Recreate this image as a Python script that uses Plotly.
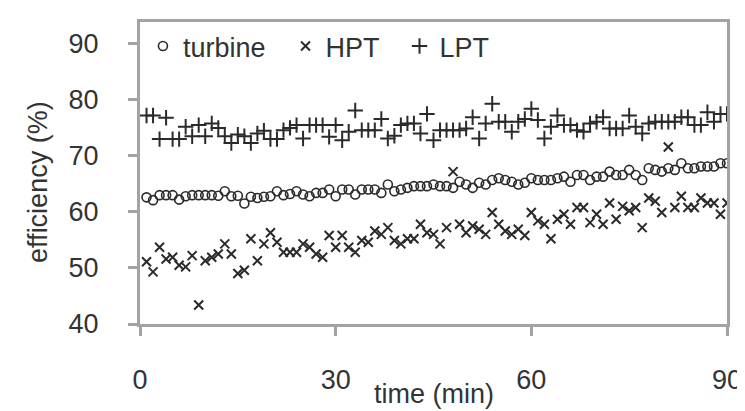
import plotly.graph_objects as go

minutes = list(range(1, 91))

turbine = [62.6, 62.1, 63.0, 63.0, 63.0, 62.2, 62.8, 63.0, 63.0, 63.0,
           63.0, 62.9, 63.7, 62.8, 62.9, 61.5, 62.7, 62.5, 62.7, 62.8,
           63.7, 63.0, 63.2, 63.7, 63.1, 62.8, 63.4, 63.4, 64.0, 62.8,
           64.0, 64.0, 63.1, 64.0, 64.0, 64.0, 63.4, 64.9, 63.7, 64.0,
           64.3, 64.6, 64.6, 64.6, 64.9, 64.6, 64.6, 64.3, 65.4, 64.9,
           64.3, 65.2, 64.9, 65.7, 66.0, 65.7, 65.4, 64.9, 65.2, 66.0,
           65.7, 65.7, 65.7, 66.0, 66.3, 65.4, 66.6, 66.6, 65.7, 66.3,
           66.3, 67.2, 66.6, 66.6, 67.5, 66.6, 65.7, 67.8, 67.5, 67.2,
           67.8, 67.5, 68.7, 67.8, 67.8, 68.1, 68.1, 68.1, 68.7, 68.7]

hpt = [51.1, 49.3, 53.7, 51.6, 51.9, 50.5, 50.2, 52.2, 43.4, 51.3,
       51.9, 52.5, 54.3, 52.5, 49.0, 49.6, 55.2, 51.3, 54.3, 56.3,
       54.6, 52.8, 52.8, 52.8, 54.3, 53.7, 52.5, 51.9, 55.8, 53.7,
       55.8, 53.7, 52.8, 54.9, 54.6, 56.6, 56.0, 57.2, 54.9, 54.3,
       55.2, 55.2, 57.8, 56.3, 56.0, 54.3, 57.2, 67.2, 57.8, 56.3,
       57.5, 56.9, 56.0, 59.9, 57.8, 56.6, 56.0, 56.9, 55.8, 59.9,
       58.4, 57.8, 55.2, 58.7, 59.6, 57.8, 60.8, 60.8, 58.1, 59.6,
       57.8, 61.6, 58.7, 61.0, 60.2, 60.8, 57.2, 62.5, 61.9, 59.9,
       71.6, 60.8, 62.8, 60.8, 60.8, 62.5, 61.6, 61.6, 59.6, 61.6]

lpt = [77.2, 77.2, 73.0, 76.8, 73.0, 73.0, 75.2, 73.5, 75.5, 73.5,
       75.8, 75.0, 73.5, 72.3, 73.8, 73.5, 72.3, 74.0, 74.5, 73.0,
       73.0, 74.6, 75.0, 75.5, 73.1, 75.5, 75.5, 75.5, 73.4, 75.5,
       72.8, 74.3, 78.1, 74.6, 74.6, 74.6, 76.6, 73.1, 73.6, 75.5,
       75.8, 75.8, 74.0, 77.5, 72.8, 74.6, 74.6, 74.6, 74.6, 74.9,
       76.9, 73.1, 75.8, 79.3, 76.1, 76.1, 74.3, 76.1, 76.6, 78.4,
       76.4, 73.1, 75.2, 77.2, 75.5, 75.5, 74.6, 74.3, 75.8, 76.1,
       76.9, 74.9, 74.9, 74.9, 77.2, 75.2, 74.0, 75.8, 76.1, 76.1,
       76.1, 76.1, 76.9, 76.9, 75.5, 75.5, 77.8, 76.1, 77.5, 77.5]

series_names = ["turbine", "HPT", "LPT"]
x_ticks = [0, 30, 60, 90]
y_ticks = [40, 50, 60, 70, 80, 90]
x_title = "time (min)"
y_title = "efficiency (%)"

INK = "#2a2a2a"
AXIS = "#a3a3a3"
TXT = "#333333"
FONT = "Liberation Sans, Arial, sans-serif"
NB = "\u00a0\u00a0"

fig = go.Figure()
fig.add_trace(go.Scatter(
    x=minutes, y=turbine, mode="markers", name=series_names[0] + NB,
    marker=dict(symbol="circle-open", size=9, color=INK, line=dict(width=1.6, color=INK)),
))
fig.add_trace(go.Scatter(
    x=minutes, y=hpt, mode="markers", name=series_names[1] + NB,
    marker=dict(symbol="x-thin-open", size=9, color=INK, line=dict(width=2, color=INK)),
))
fig.add_trace(go.Scatter(
    x=minutes, y=lpt, mode="markers", name=series_names[2],
    marker=dict(symbol="cross-thin-open", size=11, color=INK, line=dict(width=2, color=INK)),
))

axis_common = dict(
    showgrid=False, zeroline=False,
    showline=True, linecolor=AXIS, linewidth=3, mirror=True,
    ticks="outside", ticklen=9, tickwidth=3, tickcolor=AXIS,
    tickfont=dict(family=FONT, size=27, color=TXT),
)

fig.update_layout(
    width=745, height=411,
    margin=dict(l=132, r=18, t=11, b=95),
    paper_bgcolor="white", plot_bgcolor="white",
    font=dict(family=FONT, size=27, color=TXT),
    showlegend=True,
    legend=dict(
        orientation="h", x=0.005, y=1.0, xanchor="left", yanchor="top",
        bgcolor="rgba(0,0,0,0)", font=dict(family=FONT, size=27, color=TXT),
        itemwidth=30,
    ),
    xaxis=dict(
        range=[0, 90], tickvals=x_ticks, ticktext=[str(v) for v in x_ticks],
        ticklabelstandoff=21,
        **axis_common,
    ),
    yaxis=dict(
        range=[40, 93.9], tickvals=y_ticks, ticktext=[str(v) for v in y_ticks],
        ticklabelstandoff=24,
        **axis_common,
    ),
    annotations=[
        dict(text=x_title, xref="paper", yref="paper", x=0.5, y=-0.2328,
             xanchor="center", yanchor="middle", showarrow=False, borderpad=0,
             font=dict(family=FONT, size=27, color=TXT)),
        dict(text=y_title, xref="paper", yref="paper", x=-0.173, y=0.472,
             xanchor="center", yanchor="middle", showarrow=False, textangle=-90,
             font=dict(family=FONT, size=27, color=TXT)),
    ],
)

fig.write_html("out.html")
